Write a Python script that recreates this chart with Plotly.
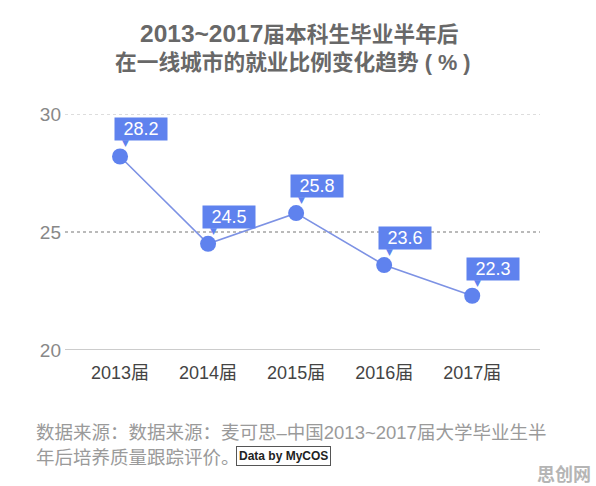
import plotly.graph_objects as go

categories = ["2013届", "2014届", "2015届", "2016届", "2017届"]
values = [28.2, 24.5, 25.8, 23.6, 22.3]
y_ticks = [20, 25, 30]

FONT = "Liberation Sans, Noto Sans CJK SC"
CJK = "Noto Sans CJK SC"
BLUE = "#5f82ee"

fig = go.Figure()
fig.add_trace(go.Scatter(
    x=list(range(len(categories))), y=values, mode="lines+markers",
    line=dict(color="#7d92e4", width=1.6),
    marker=dict(color=BLUE, size=16),
    hoverinfo="skip", showlegend=False,
))

annotations = []
for i, v in enumerate(values):
    annotations.append(dict(
        x=i, y=v, xref="x", yref="y", text=f"{v:.1f}", showarrow=False,
        font=dict(family=FONT, size=18, color="white"),
        bgcolor=BLUE, borderpad=1, xshift=21, yshift=27,
        width=50, height=20,
    ))
    annotations.append(dict(
        x=i, y=v, xref="x", yref="y", text="▼", showarrow=False,
        font=dict(family="DejaVu Sans", size=9, color=BLUE),
        xshift=5, yshift=13,
    ))

title_lines = ['<b><span style="font-size:24.5px">2013~2017</span>届本科生毕业半年后</b>',
               "<b>在一线城市的就业比例变化趋势 ( % )</b>"]
title_left = [73, 48]
for k, line in enumerate(title_lines):
    annotations.append(dict(
        x=0, y=1, xref="paper", yref="paper", xanchor="left", yanchor="middle",
        text=line, showarrow=False, yshift=81 - 29 * k, xshift=title_left[k],
        font=dict(family=FONT, size=21.7, color="#686868"),
    ))
caption_lines = ["数据来源：数据来源：麦可思–中国2013~2017届大学毕业生半",
                 "年后培养质量跟踪评价。"]
for k, line in enumerate(caption_lines):
    annotations.append(dict(
        x=0, y=0, xref="paper", yref="paper", xanchor="left", yanchor="middle",
        align="left", text=line, showarrow=False,
        xshift=-31, yshift=-82 - 25 * k,
        font=dict(family=FONT, size=18.5, color="#9a9a9a"),
    ))
annotations.append(dict(
    x=0, y=0, xref="paper", yref="paper", xanchor="left", yanchor="middle",
    text="<b>Data by MyCOS</b>", showarrow=False, xshift=171, yshift=-106,
    font=dict(family="Liberation Sans", size=12, color="#222"),
    bordercolor="#555", borderwidth=1, borderpad=2, bgcolor="white",
))
annotations.append(dict(
    x=1, y=0, xref="paper", yref="paper", xanchor="right", yanchor="top",
    text="<b>思创网</b>", showarrow=False, xshift=53, yshift=-108,
    font=dict(family=CJK, size=18, color="#b5b5b5"),
))

fig.update_layout(
    width=596, height=486,
    margin=dict(l=65, r=56, t=114, b=136),
    paper_bgcolor="white", plot_bgcolor="white",
    annotations=annotations,
    xaxis=dict(
        range=[-0.625, 4.77], tickmode="array",
        tickvals=list(range(len(categories))), ticktext=categories,
        showgrid=False, zeroline=False, showline=False, ticks="",
        tickfont=dict(family=FONT, size=18, color="#444"),
        ticklabelstandoff=10,
    ),
    yaxis=dict(
        range=[20, 30], tickvals=y_ticks, showgrid=False, zeroline=False,
        ticks="", tickfont=dict(family=FONT, size=19, color="#888"),
        ticklabelstandoff=3,
    ),
    shapes=[
        dict(type="line", xref="paper", yref="y", x0=0, x1=1, y0=30, y1=30,
             line=dict(color="#bbb", width=1, dash="dot")),
        dict(type="line", xref="paper", yref="y", x0=0, x1=1, y0=25, y1=25,
             line=dict(color="#777", width=1.2, dash="dot"), layer="below"),
        dict(type="line", xref="paper", yref="y", x0=0, x1=1, y0=20, y1=20,
             line=dict(color="#ccc", width=2)),
    ],
)

fig.write_html("out.html")
